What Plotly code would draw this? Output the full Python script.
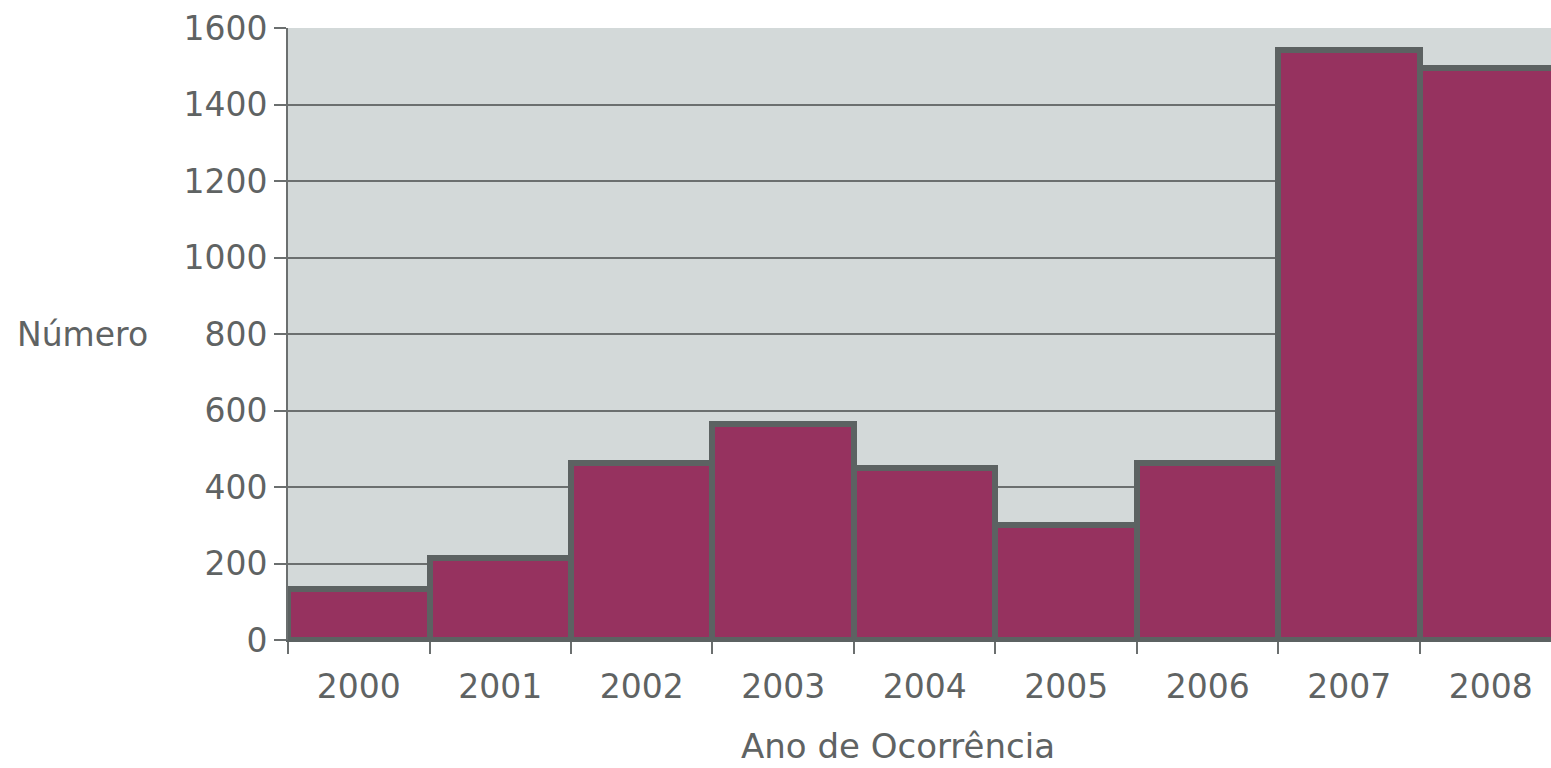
import plotly.graph_objects as go

years = ["2000", "2001", "2002", "2003", "2004", "2005", "2006", "2007", "2008"]
counts = [133, 214, 463, 565, 450, 301, 464, 1542, 1496]
y_ticks = [0, 200, 400, 600, 800, 1000, 1200, 1400, 1600]

TEXT = "#5f6363"
LINE = "#5c6262"
GRID = "#6b6f6f"
FONT = "DejaVu Sans"

fig = go.Figure(
    go.Bar(
        x=years,
        y=counts,
        width=1,
        marker=dict(color="#96325f", line=dict(color=LINE, width=6)),
        hoverinfo="x+y",
    )
)

fig.update_layout(
    width=1551,
    height=768,
    margin=dict(l=288, r=0, t=28, b=128),
    paper_bgcolor="white",
    plot_bgcolor="#d3d9d9",
    bargap=0,
    showlegend=False,
    font=dict(family=FONT, size=33, color=TEXT),
)

fig.update_xaxes(
    type="category",
    range=[-0.5, 8.426],
    tickson="boundaries",
    ticks="outside",
    ticklen=12,
    tickwidth=2,
    tickcolor=GRID,
    showline=True,
    linecolor=LINE,
    linewidth=2,
    showgrid=False,
    ticklabelstandoff=16,
    tickfont=dict(family=FONT, size=33, color=TEXT),
)

fig.update_yaxes(
    range=[0, 1600],
    tickvals=y_ticks,
    ticks="outside",
    ticklen=12,
    tickwidth=2,
    tickcolor=GRID,
    showline=True,
    linecolor=GRID,
    linewidth=2,
    showgrid=True,
    gridcolor=GRID,
    gridwidth=2,
    zeroline=False,
    tickfont=dict(family=FONT, size=33, color=TEXT),
)

fig.add_annotation(
    text="Número",
    xref="paper",
    yref="y",
    x=0,
    y=800,
    xanchor="right",
    yanchor="middle",
    xshift=-138,
    showarrow=False,
    font=dict(family=FONT, size=33, color=TEXT),
)

fig.add_annotation(
    text="Ano de Ocorrência",
    xref="paper",
    yref="paper",
    x=0.483,
    y=0,
    xanchor="center",
    yanchor="middle",
    yshift=-106,
    borderpad=0,
    showarrow=False,
    font=dict(family=FONT, size=34, color=TEXT),
)

fig.write_html("out.html")
